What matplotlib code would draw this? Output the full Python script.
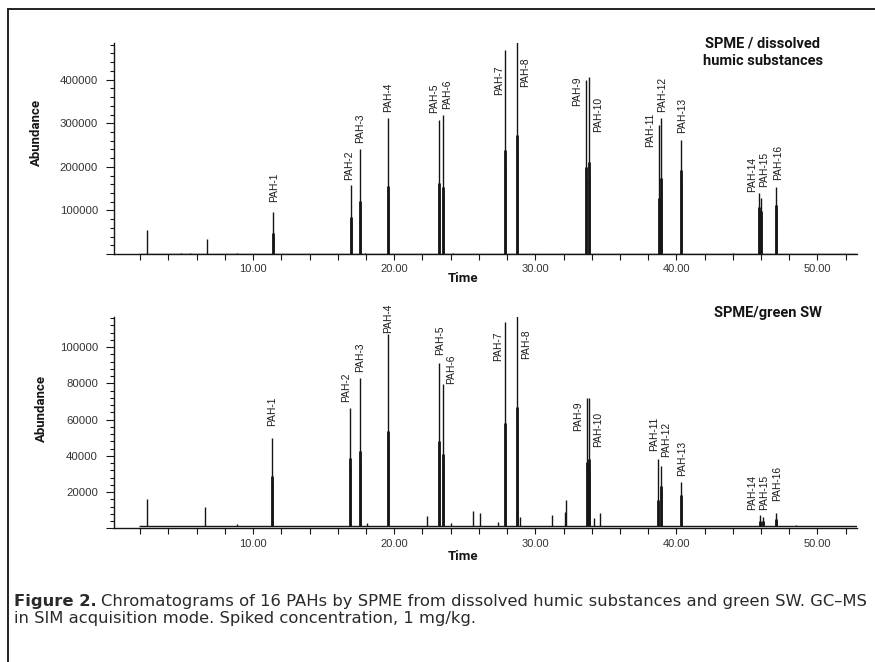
import matplotlib
matplotlib.use("Agg")
import matplotlib.pyplot as plt
from matplotlib.lines import Line2D
from matplotlib.ticker import MultipleLocator, FixedLocator, FuncFormatter

# ---- data ----
pah_names = ["PAH-%d" % i for i in range(1, 17)]

# SPME / dissolved humic substances
humic_times = [11.39, 16.94, 17.60, 19.58, 23.20, 23.43, 27.87, 28.72,
               33.62, 33.78, 38.77, 38.90, 40.36, 45.84, 46.03, 47.09]
humic_heights = [97000, 158000, 241000, 313000, 307000, 319000, 468000, 487000,
                 400000, 405000, 296000, 311000, 261000, 141000, 128000, 154000]
humic_shoulders = [48000, 85000, 122000, 156000, 162000, 153000, 238000, 273000,
                   200000, 210000, 128000, 174000, 193000, 108000, 99000, 112000]
humic_minor_times = [2.47, 6.72, 8.85, 4.90, 5.50, 17.90, 24.20, 44.00]
humic_minor_heights = [55000, 34000, 3000, 2500, 2500, 3000, 3000, 2000]

# SPME / green SW
green_times = [11.37, 16.90, 17.60, 19.58, 23.20, 23.44, 27.87, 28.72,
               33.68, 33.80, 38.73, 38.90, 40.36, 45.90, 46.14, 47.09]
green_heights = [49600, 66200, 83000, 107300, 91200, 79700, 114000, 117000,
                 72000, 72000, 38200, 34600, 25800, 7200, 6100, 8500]
green_shoulders = [29000, 39000, 42500, 53700, 48000, 41000, 58000, 67000,
                   36400, 38000, 15400, 23600, 18100, 4000, 4000, 5000]
green_minor_times = [2.47, 6.60, 8.85, 22.35, 25.60, 26.08, 27.33, 31.20,
                     32.10, 32.17, 34.15, 34.57, 18.10, 24.00, 28.95, 48.50]
green_minor_heights = [16000, 11800, 2500, 6600, 9600, 8700, 3700, 7200,
                       9000, 15800, 5400, 8700, 3000, 3000, 6000, 1800]
green_baseline = 1200

# where the rotated peak names sit (time, abundance at text start)
humic_label_t = [11.49, 16.80, 17.60, 19.55, 22.85, 23.73, 27.44, 29.31,
                 32.93, 34.46, 38.16, 39.00, 40.40, 45.35, 46.20, 47.20]
humic_label_y = [120000, 170000, 254000, 326000, 324000, 332000, 365000, 382000,
                 340000, 280000, 245000, 326000, 278000, 143000, 154000, 170000]
green_label_t = [11.37, 16.56, 17.58, 19.58, 23.24, 24.00, 27.33, 29.33,
                 33.04, 34.46, 38.42, 39.30, 40.40, 45.36, 46.20, 47.16]
green_label_y = [56200, 69900, 86300, 108000, 95400, 79700, 92100, 93600,
                 53800, 44600, 42500, 39200, 29100, 9900, 9900, 15000]

INK = "#151515"
GREY = "#8c8c8c"
AXFONT = ["Liberation Sans", "DejaVu Sans"]
BOLDFONT = ["Roboto", "Liberation Sans", "DejaVu Sans"]

fig = plt.figure(figsize=(8.75, 6.62), dpi=100)

ax1 = fig.add_axes([0.1303, 0.6163, 0.8491, 0.3187])
ax2 = fig.add_axes([0.1303, 0.2020, 0.8491, 0.3196])


def draw_trace(ax, times, heights, shoulders, minor_t, minor_h, base):
    ax.hlines(base, 1.9, 52.8, color=INK, lw=1.0, zorder=2)
    ax.vlines(minor_t, base, minor_h, color=INK, lw=1.0, zorder=3)
    ax.vlines([t + 0.07 for t in times], base, [s * 0.85 for s in shoulders],
              color=GREY, lw=1.1, zorder=3)
    ax.vlines(times, base, heights, color=INK, lw=1.0, zorder=4)
    ax.vlines(times, base, shoulders, color=INK, lw=2.0, zorder=4)


def style_axis(ax, ymax, ymajor, yminor):
    ax.set_xlim(0.14, 52.8)
    ax.set_ylim(0, ymax)
    for s in ["top", "right"]:
        ax.spines[s].set_visible(False)
    for s in ["left", "bottom"]:
        ax.spines[s].set_color(INK)
        ax.spines[s].set_linewidth(1.0)
    ax.set_facecolor("none")
    ax.xaxis.set_major_locator(FixedLocator([10, 20, 30, 40, 50]))
    ax.xaxis.set_minor_locator(MultipleLocator(2))
    ax.xaxis.set_major_formatter(FuncFormatter(lambda v, p: "%.2f" % v))
    ax.yaxis.set_major_locator(MultipleLocator(ymajor))
    ax.yaxis.set_minor_locator(MultipleLocator(yminor))
    ax.yaxis.set_major_formatter(
        FuncFormatter(lambda v, p: "" if v == 0 else "%d" % v))
    ax.tick_params(axis="x", which="both", direction="out", length=4,
                   width=0.8, color=INK, pad=3.5, labelsize=8,
                   labelcolor="#333333")
    ax.tick_params(axis="y", which="major", direction="out", length=6,
                   width=0.8, color=INK, pad=5.5, labelsize=8.2,
                   labelcolor="#333333")
    ax.tick_params(axis="y", which="minor", direction="out", length=3,
                   width=0.8, color=INK)
    for lab in ax.get_xticklabels() + ax.get_yticklabels():
        lab.set_family(AXFONT)


def add_labels(ax, xs, ys):
    for name, x, y in zip(pah_names, xs, ys):
        ax.text(x, y, name, rotation=90, ha="center", va="bottom",
                fontsize=7.4, family=AXFONT, color="#1a1a1a")


draw_trace(ax1, humic_times, humic_heights, humic_shoulders,
           humic_minor_times, humic_minor_heights, 0)
style_axis(ax1, 484000, 100000, 20000)
add_labels(ax1, humic_label_t, humic_label_y)

draw_trace(ax2, green_times, green_heights, green_shoulders,
           green_minor_times, green_minor_heights, green_baseline)
style_axis(ax2, 116800, 20000, 4000)
add_labels(ax2, green_label_t, green_label_y)

for ax, ylab, tlab in [(ax1, (-0.104, 0.578), (0.47, -0.118)),
                       (ax2, (-0.097, 0.567), (0.47, -0.134))]:
    ax.text(ylab[0], ylab[1], "Abundance", transform=ax.transAxes,
            rotation=90, ha="center", va="center", fontsize=9.5,
            fontweight="bold", family=BOLDFONT, color=INK)
    ax.text(tlab[0], tlab[1], "Time", transform=ax.transAxes,
            ha="center", va="center", fontsize=9.5,
            fontweight="bold", family=BOLDFONT, color=INK)

ax1.text(0.873, 0.955, "SPME / dissolved\nhumic substances",
         transform=ax1.transAxes, ha="center", va="center", fontsize=10.5,
         fontweight="bold", family=BOLDFONT, color=INK, linespacing=1.35)
ax2.text(0.88, 1.016, "SPME/green SW", transform=ax2.transAxes,
         ha="center", va="center", fontsize=10.5,
         fontweight="bold", family=BOLDFONT, color=INK)

# frame around the figure panel
fig.add_artist(Line2D([8 / 875, 1.0], [1 - 9 / 662, 1 - 9 / 662],
                      transform=fig.transFigure, color="#222222", lw=1.4))
fig.add_artist(Line2D([8 / 875, 8 / 875], [0.0, 1 - 9 / 662],
                      transform=fig.transFigure, color="#222222", lw=1.4))

# caption, sized so the first line spans the panel like the original
CAPFONT = ["DejaVu Sans"]
cap_color = "#2a2a2a"
cap_rest = ("Chromatograms of 16 PAHs by SPME from dissolved humic substances "
            "and green SW. GC\u2013MS")
cap_line2 = "in SIM acquisition mode. Spiked concentration, 1 mg/kg."
x0, x_end = 14 / 875, 870 / 875
y1, y2 = 1 - 605.7 / 662, 1 - 623.5 / 662

cap_size = 10.5
for _ in range(2):
    head = fig.text(x0, y1, "Figure 2.", fontsize=cap_size, fontweight="bold",
                    family=CAPFONT, color=cap_color, va="baseline")
    fig.canvas.draw()
    hx = head.get_window_extent().x1 / fig.bbox.width + 4 / 875
    rest = fig.text(hx, y1, cap_rest, fontsize=cap_size, family=CAPFONT,
                    color=cap_color, va="baseline")
    fig.canvas.draw()
    right = rest.get_window_extent().x1 / fig.bbox.width
    head.remove()
    rest.remove()
    cap_size *= (x_end - x0) / (right - x0)

head = fig.text(x0, y1, "Figure 2.", fontsize=cap_size, fontweight="bold",
                family=CAPFONT, color=cap_color, va="baseline")
fig.canvas.draw()
hx = head.get_window_extent().x1 / fig.bbox.width + 4 / 875
fig.text(hx, y1, cap_rest, fontsize=cap_size, family=CAPFONT,
         color=cap_color, va="baseline")
fig.text(x0, y2, cap_line2, fontsize=cap_size, family=CAPFONT,
         color=cap_color, va="baseline")

fig.savefig("out.png", dpi=100, facecolor="white")
